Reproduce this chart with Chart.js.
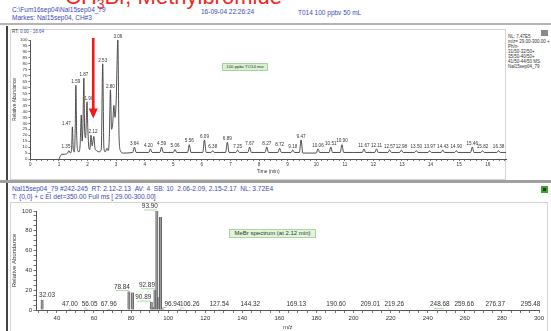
<!DOCTYPE html>
<html><head><meta charset="utf-8">
<script src="https://cdn.jsdelivr.net/npm/chart.js@4.4.1/dist/chart.umd.min.js"></script>
<style>
html,body{margin:0;padding:0;background:#fff;}
#page{position:relative;width:551px;height:331px;overflow:hidden;font-family:"Liberation Sans",Arial,sans-serif;background:#fff;}
.t{position:absolute;white-space:nowrap;line-height:1;}
.blue{color:#3a4bb8;}
.ln{position:absolute;}
canvas{position:absolute;left:0;}
</style></head><body>
<div id="page">
  <div class="t" style="left:65px;top:-14px;font-size:22px;color:#f0281e;">CH<span style="font-size:14px;position:relative;top:5px;">3</span>Br, Methylbromide</div>
  <div class="t blue" style="left:12px;top:7px;font-size:6.5px;">C:\Fum16sep04\Nal15sep04_79</div>
  <div class="t blue" style="left:12px;top:15px;font-size:6.5px;">Markes: Nal15sep04, CH#3</div>
  <div class="t blue" style="left:201px;top:8.5px;font-size:6.5px;">16-09-04 22:26:24</div>
  <div class="t blue" style="left:298px;top:9.5px;font-size:6.5px;">T014 100 ppbv 50 mL</div>

  <div class="ln" style="left:0;top:23px;width:551px;height:2px;background:#b4b4b4;"></div>
  <div class="ln" style="left:6px;top:26px;width:1.5px;height:155px;background:#444;"></div>
  <div class="ln" style="left:10px;top:29px;width:496px;height:151px;border:1px solid #d4d4d4;box-sizing:border-box;"></div>
  <div class="t" style="left:12px;top:30px;font-size:4.5px;color:#333;">RT: <span class="blue">0.00 - 16.64</span></div>
  <div class="ln" style="left:541px;top:30px;width:7px;height:6px;background:#8a8a8a;"></div>
  <div class="t" style="left:508px;top:34px;font-size:4.5px;color:#333;line-height:5px;">NL: 7.47E5<br>m/z= 29.00-300.00 +<br>Ph/n-<br>31/50-32/50+<br>35/50-40/50+<br>41/50-44/50 MS<br>Nal15sep04_79</div>
  <div class="t" style="left:222px;top:63px;width:46px;height:8px;background:#d9f0d3;border:1px solid #a5d49b;box-sizing:border-box;font-size:4.3px;color:#333;text-align:center;line-height:6px;">100 ppbv TO14 mix</div>

  <div class="ln" style="left:0;top:180px;width:551px;height:3px;background:#a0a0a0;"></div>
  <div class="ln" style="left:6px;top:183px;width:1.5px;height:148px;background:#444;"></div>
  <div class="t blue" style="left:12px;top:186px;font-size:6.6px;">Nal15sep04_79 #242-245 &nbsp;RT: 2.12-2.13 &nbsp;AV: 4 &nbsp;SB: 10 &nbsp;2.06-2.09, 2.15-2.17 &nbsp;NL: 3.72E4</div>
  <div class="t blue" style="left:12px;top:194px;font-size:6.6px;">T: {0,0} + c EI det=350.00 Full ms [ 29.00-300.00]</div>
  <div class="ln" style="left:541px;top:186px;width:7px;height:7px;background:#3aa52c;"></div>
  <div class="ln" style="left:543px;top:188px;width:3px;height:3px;background:#333;"></div>
  <div class="ln" style="left:10px;top:202px;width:538px;height:140px;border:1px solid #d4d4d4;box-sizing:border-box;"></div>
  <div class="t" style="left:229px;top:229px;width:87px;height:9px;background:#e0f4dc;border:1px solid #a8d8a0;box-sizing:border-box;font-size:6px;color:#333;text-align:center;line-height:7px;">MeBr spectrum (at 2.12 min)</div>

  <canvas id="chrom" width="551" height="185" style="top:0;"></canvas>
  <canvas id="spec" width="551" height="146" style="top:185px;"></canvas>
</div>
<script>
// ---- Chromatogram (TIC) ----
const rtMin = [
 1.00,1.04,1.10,1.20,1.30,1.35,1.40,1.44,1.47,1.50,1.54,1.57,1.59,1.62,1.66,1.70,1.74,1.78,1.81,1.84,
 1.87,1.90,1.93,1.96,1.98,2.01,2.05,2.08,2.12,2.16,2.22,2.26,2.32,2.40,2.48,2.53,2.57,2.62,2.68,2.72,
 2.76,2.80,2.84,2.88,2.92,2.96,3.00,3.06,3.10,3.15,3.25,
 3.58,3.64,3.70, 4.14,4.20,4.26, 4.53,4.59,4.65, 5.00,5.06,5.12, 5.50,5.56,5.62, 6.03,6.09,6.15,
 6.32,6.38,6.44, 6.83,6.89,6.95, 7.19,7.25,7.31, 7.61,7.67,7.73, 8.21,8.27,8.33, 8.66,8.72,8.78,
 9.12,9.18,9.24, 9.41,9.47,9.53, 10.00,10.06,10.12, 10.45,10.51,10.57, 10.84,10.90,10.96, 11.30,
 11.61,11.67,11.73, 12.05,12.11,12.17, 12.51,12.57,12.63, 12.92,12.98,13.04, 13.44,13.50,13.56,
 13.91,13.97,14.03, 14.37,14.43,14.49, 14.84,14.90,14.96, 15.40,15.46,15.52, 15.76,15.82,15.88,
 16.32,16.38,16.44, 16.64
];
const relAbund = [
 0,2,4,4,5,7,5,8,27,8,6,28,62,20,7,6,12,37,15,30,
 68,22,18,35,48,25,9,8,20,11,19,9,7,6,8,80,10,6,9,7,
 17,58,25,30,45,35,48,100,20,7,5,
 5.5,10,5.5, 5.5,8.5,5.5, 5.5,10,5.5, 5.5,8,5.5, 5.5,12,5.5, 5.5,16,5.5,
 5.5,7,5.5, 5.5,14,5.5, 5.5,7.5,5.5, 5.5,10,5.5, 5.5,10,5.5, 5.5,9,5.5,
 5.5,7.5,5.5, 5.5,16,5, 5,8.5,5.5, 5.5,10,5.5, 5.5,12,5.5, 5.5,
 5.5,8.5,5.5, 5.5,8.5,5.5, 5.5,7.5,5.5, 5.5,7.5,5.5, 5.5,7,5.5,
 5.5,7,5.5, 5.5,7.5,5.5, 5.5,7,5.5, 5.5,10,5.5, 5.5,7,5.5,
 5.5,7,5.5, 5.5
];
const peakRT = [1.35,1.47,1.59,1.87,1.98,2.12,2.53,2.80,3.06,3.64,4.20,4.59,5.06,5.56,6.09,6.38,6.89,7.25,
 7.67,8.27,8.72,9.18,9.47,10.06,10.51,10.90,11.67,12.11,12.57,12.98,13.50,13.97,14.43,14.90,15.46,15.82,16.38];
const rtTickLabels = [0,1,2,3,4,5,6,7,8,9,10,11,12,13,14,15,16];
const markedRT = 2.20; // red arrow marking the MeBr peak

// ---- Mass spectrum at 2.12 min ----
const mz = [32.03,47.00,56.05,67.96,78.84,80.84,90.89,91.90,92.89,93.90,94.91,95.90,96.94,
 106.26,127.54,144.32,169.13,190.60,209.01,219.26,248.68,259.66,276.37,295.48];
const intensity = [10,1.2,1.0,1.0,18.6,17.6,8,3,20.5,100,13,94,1.5,
 1.0,0.8,0.8,0.6,0.6,0.6,0.8,0.6,0.6,0.6,0.6];
const labelledMz = [32.03,47.00,56.05,67.96,78.84,90.89,92.89,93.90,96.94,106.26,127.54,144.32,
 169.13,190.60,209.01,219.26,248.68,259.66,276.37,295.48];
const mzTickLabels = [40,60,80,100,120,140,160,180,200,220,240,260,280,300];

// label placement offsets (px) – layout only
const chromLabelDx = {1.35:-3,1.47:-6,1.98:2,2.12:2,4.20:-2};
const specLabelDx = {32.03:5,56.05:3,78.84:-7,90.89:-8,92.89:-8,93.90:-7,96.94:10,106.26:10,219.26:5,248.68:-4};

const FONT = '"Liberation Sans", Arial, sans-serif';
Chart.defaults.font.family = FONT;
Chart.defaults.color = '#333';

const chromPlugin = {
  id: 'chromLabels',
  afterDatasetsDraw(chart) {
    const {ctx, scales: {x, y}, chartArea} = chart;
    ctx.save();
    ctx.font = '4.6px ' + FONT;
    ctx.fillStyle = '#333';
    ctx.textAlign = 'center';
    ctx.textBaseline = 'bottom';
    peakRT.forEach(t => {
      const i = rtMin.indexOf(t);
      const px = x.getPixelForValue(t) + (chromLabelDx[t] || 0);
      const py = y.getPixelForValue(relAbund[i]) - 1.2;
      ctx.fillText(t.toFixed(2), px, py);
    });
    const ax = x.getPixelForValue(markedRT);
    const top = chartArea.top - 2;
    const tip = y.getPixelForValue(34);
    ctx.fillStyle = '#ee1b1b';
    ctx.fillRect(ax - 1.3, top, 2.6, tip - top - 9);
    ctx.beginPath();
    ctx.moveTo(ax - 4.5, tip - 10);
    ctx.lineTo(ax + 4.5, tip - 10);
    ctx.lineTo(ax, tip);
    ctx.closePath();
    ctx.fill();
    ctx.restore();
  }
};

const specPlugin = {
  id: 'specLabels',
  afterDatasetsDraw(chart) {
    const {ctx, scales: {x, y}} = chart;
    ctx.save();
    ctx.font = '6.4px ' + FONT;
    ctx.fillStyle = '#333';
    ctx.textAlign = 'center';
    ctx.textBaseline = 'bottom';
    labelledMz.forEach(m => {
      const i = mz.indexOf(m);
      const bx = x.getPixelForValue(m);
      const dx = specLabelDx[m] || 0;
      const py = y.getPixelForValue(intensity[i]) - 1.5;
      ctx.fillText(m.toFixed(2), bx + dx, py);
      if (dx) {
        ctx.strokeStyle = '#8fd48a';
        ctx.lineWidth = 0.8;
        ctx.beginPath();
        ctx.moveTo(bx + dx - 6, py + 0.5);
        ctx.lineTo(bx, py + 0.5);
        ctx.stroke();
      }
    });
    ctx.restore();
  }
};

const isNear = (v, arr) => arr.some(a => Math.abs(a - v) < 1e-6);

new Chart(document.getElementById('chrom'), {
  type: 'line',
  data: {
    datasets: [{
      data: rtMin.map((t, i) => ({x: t, y: relAbund[i]})),
      borderColor: '#3c3c3c',
      borderWidth: 0.9,
      pointRadius: 0,
      cubicInterpolationMode: 'monotone',
      fill: false
    }]
  },
  options: {
    responsive: false, animation: false, devicePixelRatio: 1,
    layout: {padding: {left: 0, top: 40, right: 45, bottom: 0}},
    plugins: {legend: {display: false}, tooltip: {enabled: false}},
    scales: {
      x: {
        type: 'linear', min: 0, max: 16.64,
        afterFit: s => { s.height = 26; },
        ticks: {stepSize: 0.2, includeBounds: false, autoSkip: false, maxRotation: 0,
          font: {size: 4.6}, color: '#333', padding: 1,
          callback: v => isNear(v, rtTickLabels) ? String(Math.round(v)) : ''},
        grid: {drawOnChartArea: false, tickLength: 2, color: '#555', tickWidth: 0.8},
        border: {display: true, color: '#555', width: 1},
        title: {display: true, text: 'Time (min)', font: {size: 4.8}, color: '#333', padding: {top: 0, bottom: 10}}
      },
      y: {
        min: 0, max: 100,
        afterFit: s => { s.width = 30.4; },
        ticks: {stepSize: 5, autoSkip: false, font: {size: 4.4}, color: '#333', padding: 1},
        grid: {drawOnChartArea: false, tickLength: 2, color: '#555', tickWidth: 0.8},
        border: {display: true, color: '#555', width: 1},
        title: {display: true, text: 'Relative Abundance', font: {size: 4.8}, color: '#333', padding: {top: 12, bottom: 0}}
      }
    }
  },
  plugins: [chromPlugin]
});

new Chart(document.getElementById('spec'), {
  type: 'bar',
  data: {
    datasets: [{
      data: mz.map((m, i) => ({x: m, y: intensity[i]})),
      backgroundColor: '#9a9a9a',
      borderColor: '#555555',
      borderWidth: {left: 0.8, right: 0.8, top: 0, bottom: 0},
      barThickness: 2.4
    }]
  },
  options: {
    responsive: false, animation: false, devicePixelRatio: 1,
    layout: {padding: {left: 0, top: 26, right: 12, bottom: 0}},
    plugins: {legend: {display: false}, tooltip: {enabled: false}},
    scales: {
      x: {
        type: 'linear', min: 29, max: 300, offset: false,
        afterFit: s => { s.height = 21; },
        ticks: {stepSize: 5, includeBounds: false, autoSkip: false, maxRotation: 0,
          font: {size: 6}, color: '#333', padding: 2,
          callback: v => isNear(v, mzTickLabels) ? String(Math.round(v)) : ''},
        grid: {drawOnChartArea: false, offset: false, tickLength: 3, color: '#555', tickWidth: 0.8},
        border: {display: true, color: '#555', width: 1},
        title: {display: true, text: 'm/z', font: {size: 6}, color: '#333', padding: {top: 0, bottom: 0}}
      },
      y: {
        min: 0, max: 100,
        afterFit: s => { s.width = 36.5; },
        ticks: {stepSize: 5, autoSkip: false, font: {size: 6}, color: '#333', padding: 1.5,
          callback: v => (Math.round(v) % 20 === 0 ? String(Math.round(v)) : '')},
        grid: {drawOnChartArea: false, tickLength: 3, color: '#555', tickWidth: 0.8},
        border: {display: true, color: '#555', width: 1},
        title: {display: true, text: 'Relative Abundance', font: {size: 6}, color: '#333', padding: {top: 11, bottom: 0}}
      }
    }
  },
  plugins: [specPlugin]
});
</script>
</body></html>
